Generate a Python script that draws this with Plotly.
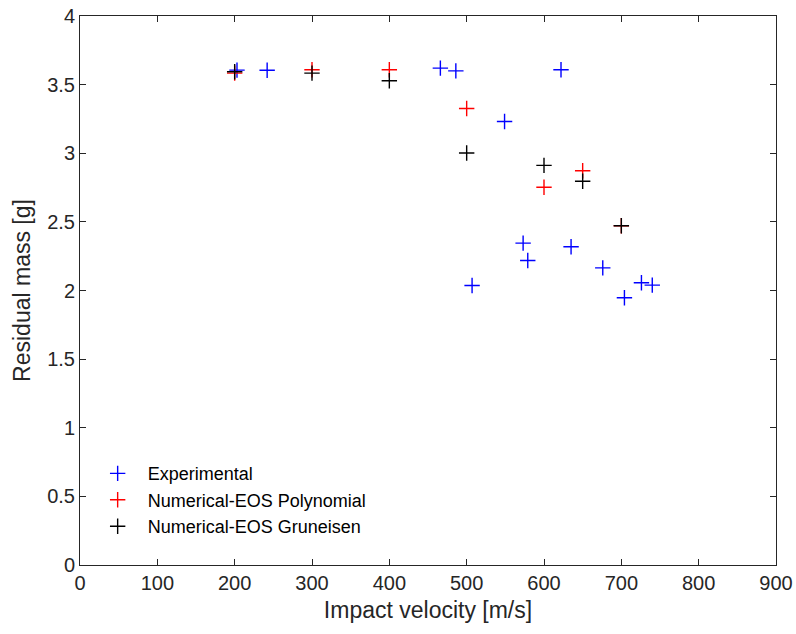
import plotly.graph_objects as go

exp_v = [203, 242, 466, 486, 622, 549, 573, 635, 579, 676, 507, 726, 740, 704]
exp_m = [3.606, 3.605, 3.62, 3.60, 3.608, 3.231, 2.345, 2.319, 2.219, 2.165, 2.036, 2.056, 2.039, 1.947]

poly_v = [200, 300, 400, 500, 600, 650, 700]
poly_m = [3.584, 3.608, 3.608, 3.326, 2.752, 2.873, 2.472]

grun_v = [200, 300, 400, 500, 600, 650, 700]
grun_m = [3.594, 3.584, 3.528, 3.002, 2.912, 2.796, 2.472]

series = [
    ("Experimental", exp_v, exp_m, "rgb(0,0,255)"),
    ("Numerical-EOS Polynomial", poly_v, poly_m, "rgb(255,0,0)"),
    ("Numerical-EOS Gruneisen", grun_v, grun_m, "rgb(0,0,0)"),
]

fig = go.Figure()
for i, (name, xs, ys, col) in enumerate(series):
    fig.add_trace(go.Scatter(
        x=xs, y=ys, mode="markers", name=name, legendgroup=f"g{i}",
        marker=dict(symbol="cross-thin", size=11, line=dict(color=col, width=1.4), color=col),
    ))

axis_col = "rgb(38,38,38)"
fig.update_layout(
    width=796, height=634,
    margin=dict(l=80, r=20, t=16, b=69),
    paper_bgcolor="white", plot_bgcolor="white",
    font=dict(family="Liberation Sans, Arial, sans-serif", color=axis_col),
    showlegend=True,
    legend=dict(x=0.011, y=0.2, xanchor="left", yanchor="top",
                bgcolor="rgba(0,0,0,0)", font=dict(size=18, color="black"),
                itemwidth=50, tracegroupgap=0),
    xaxis=dict(range=[0, 900], tickvals=[0, 100, 200, 300, 400, 500, 600, 700, 800, 900],
               showgrid=False, zeroline=False, showline=True, linecolor=axis_col, linewidth=1,
               mirror="ticks", ticks="inside", ticklen=6, tickcolor=axis_col, automargin=False,
               tickfont=dict(size=20), title=dict(text="Impact velocity [m/s]", font=dict(size=23), standoff=8)),
    yaxis=dict(range=[0, 4], tickvals=[0, 0.5, 1, 1.5, 2, 2.5, 3, 3.5, 4],
               ticktext=["0", "0.5", "1", "1.5", "2", "2.5", "3", "3.5", "4"],
               showgrid=False, zeroline=False, showline=True, linecolor=axis_col, linewidth=1,
               mirror="ticks", ticks="inside", ticklen=6, tickcolor=axis_col, automargin=False,
               tickfont=dict(size=20), title=dict(text="Residual mass [g]", font=dict(size=23), standoff=10)),
)

fig.write_html("out.html")
